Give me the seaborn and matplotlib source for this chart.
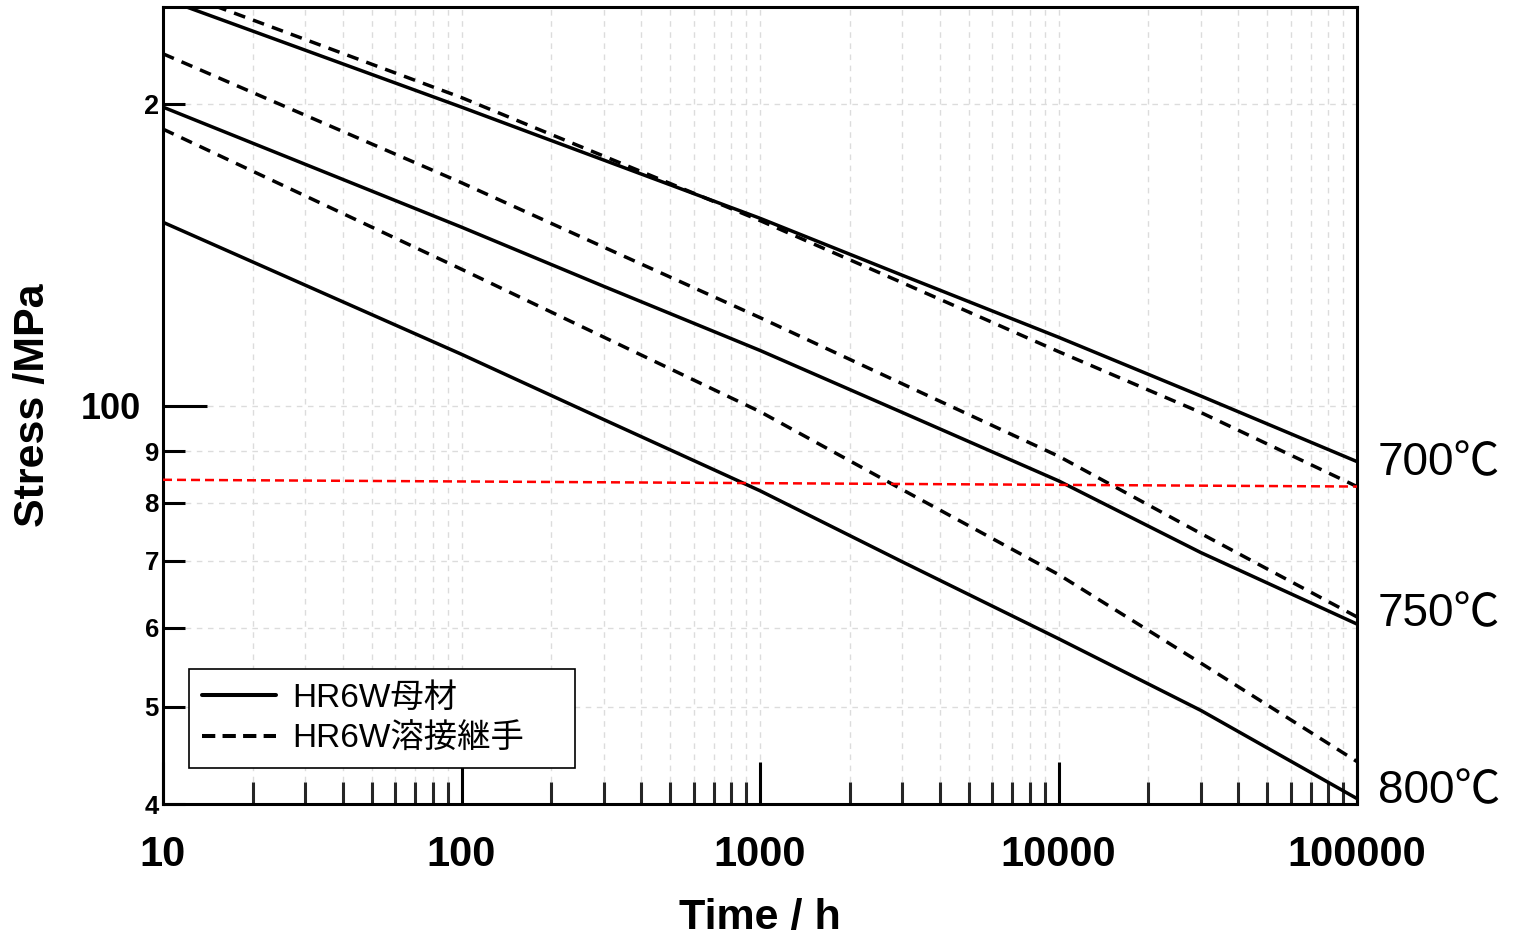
import numpy as np
import pandas as pd
import matplotlib
matplotlib.use('Agg')
import matplotlib.pyplot as plt
import seaborn as sns
from matplotlib import font_manager as fm
from matplotlib.lines import Line2D
from matplotlib.ticker import FixedLocator, FixedFormatter, NullFormatter, LogLocator, FuncFormatter

# ---------------- data ----------------
times = [10, 100, 300, 1000, 3000, 10000, 30000, 100000]
base_700 = [255, 198.6, 175.8, 153.8, 134.9, 117, 102.2, 87.9]
weld_700 = [262, 203, 177.4, 153, 132.6, 113.2, 98.4, 83.0]
base_750 = [198.6, 150.7, 131.5, 113.5, 98.4, 84.1, 71.3, 60.5]
weld_750 = [224.5, 166.9, 143.9, 122.4, 105.1, 89, 74.5, 61.5]
base_800 = [152.4, 112.5, 96.8, 82.2, 69.8, 58.5, 49.6, 40.5]
weld_800 = [188.8, 136.8, 117, 98.6, 82.4, 67.8, 55.3, 44.1]
ref_time = [10, 100000]
ref_stress = [84.3, 83.0]
temps = ['700℃', '750℃', '800℃']
temp_label_y = [87.5, 61.9, 41.2]
legend_labels = ['HR6W母材', 'HR6W溶接継手']
xticks = [10, 100, 1000, 10000, 100000]
ymajor = [100]
ymajor_labels = ['100']
yminor = [40, 50, 60, 70, 80, 90, 200]
yminor_labels = ['4', '5', '6', '7', '8', '9', '2']

series = [
    ('700', 'base', base_700), ('700', 'weld', weld_700),
    ('750', 'base', base_750), ('750', 'weld', weld_750),
    ('800', 'base', base_800), ('800', 'weld', weld_800),
]
rows = []
for t, kind, vals in series:
    for x, y in zip(times, vals):
        rows.append({'time': x, 'stress': y, 'temp': t, 'kind': kind})
df = pd.DataFrame(rows)

# ---------------- style ----------------
sns.set_theme(style='white')


def has_font(name):
    try:
        fm.findfont(fm.FontProperties(family=name), fallback_to_default=False)
        return True
    except Exception:
        return False


narrow = has_font('Liberation Sans Narrow')
BOLD = 'Liberation Sans Narrow' if narrow else 'Liberation Sans'
if narrow:
    fs_xt, fs_y100, fs_lab = 34, 29, 34
else:
    fs_xt, fs_y100, fs_lab = 30, 26, 31
fs_ymin, fs_y2 = 18.5, 19.5
TXT = ['Liberation Sans', 'Noto Sans CJK JP', 'DejaVu Sans']
plt.rcParams['font.family'] = TXT
plt.rcParams['text.color'] = 'black'

fig = plt.figure(figsize=(15.18, 9.36), dpi=100)
ax = fig.add_axes([163 / 1518, 1 - 804 / 936, (1357 - 163) / 1518, (804 - 7) / 936])
ax.set_facecolor('white')

LW = 2.5
dash_black = (0, (3.4, 2.4))
for (t, kind), sub in df.groupby(['temp', 'kind']):
    ls = '-' if kind == 'base' else dash_black
    sns.lineplot(data=sub, x='time', y='stress', ax=ax, color='black',
                 linewidth=LW, linestyle=ls, estimator=None, sort=True,
                 legend=False, zorder=3)

ref = pd.DataFrame({'time': ref_time, 'stress': ref_stress})
sns.lineplot(data=ref, x='time', y='stress', ax=ax, color='#ff0000',
             linewidth=1.8, linestyle=(0, (3.6, 2.0)), estimator=None,
             legend=False, zorder=4)

ax.set_xscale('log')
ax.set_yscale('log')
ax.set_xlim(10, 100000)
ax.set_ylim(40, 250)

# x ticks
ax.xaxis.set_major_locator(FixedLocator(xticks))
ax.xaxis.set_major_formatter(FuncFormatter(lambda v, p: f'{int(round(v))}'))
ax.xaxis.set_minor_locator(LogLocator(base=10, subs=np.arange(2, 10), numticks=20))
ax.xaxis.set_minor_formatter(NullFormatter())
# y ticks
ax.yaxis.set_major_locator(FixedLocator(ymajor))
ax.yaxis.set_major_formatter(FixedFormatter(ymajor_labels))
ax.yaxis.set_minor_locator(FixedLocator(yminor))
ax.yaxis.set_minor_formatter(FixedFormatter(yminor_labels))

ax.tick_params(axis='x', which='major', direction='in', length=30, width=2.2,
               pad=22, labelsize=fs_xt, colors='black')
ax.tick_params(axis='x', which='minor', direction='in', length=16, width=2.2)
ax.tick_params(axis='y', which='major', direction='in', length=32, width=2.2,
               pad=16, labelsize=fs_y100, colors='black')
ax.tick_params(axis='y', which='minor', direction='in', length=16, width=2.2,
               pad=3, labelsize=fs_ymin, colors='black')
ax.tick_params(bottom=True, left=True, top=False, right=False, which='both')

for lbl in ax.get_xticklabels() + ax.get_yticklabels():
    lbl.set_fontfamily(BOLD)
    lbl.set_fontweight('bold')

ax.grid(True, which='both', color='#dcdcdc', linestyle=(0, (4, 4)), linewidth=1.0, zorder=0)
ax.set_axisbelow(True)

for sp in ax.spines.values():
    sp.set_visible(True)
    sp.set_color('black')
    sp.set_linewidth(2.2)

ax.set_xlabel('Time / h', fontsize=fs_lab, fontweight='bold', family=BOLD, labelpad=17, color='black')
ax.set_ylabel('Stress /MPa', fontsize=fs_lab, fontweight='bold', family=BOLD, labelpad=20, color='black')

# temperature labels at right
for lab, yv in zip(temps, temp_label_y):
    ax.annotate(lab, xy=(1.0, yv), xycoords=('axes fraction', 'data'),
                xytext=(15, 0), textcoords='offset points', va='center', ha='left',
                fontsize=33, family=TXT, color='black', annotation_clip=False)

# legend
handles = [Line2D([0], [0], color='black', lw=2.9, linestyle='-'),
           Line2D([0], [0], color='black', lw=2.9, linestyle=(0, (3.3, 1.8)))]
leg = ax.legend(handles, legend_labels, loc='lower left',
                bbox_to_anchor=(26 / 1194, 36 / 797, 386 / 1194, 97 / 797),
                mode='expand', borderaxespad=0, frameon=True,
                fancybox=False, edgecolor='black', framealpha=1,
                handlelength=2.2, handletextpad=0.5, labelspacing=0.3,
                borderpad=0.4, prop={'family': TXT, 'size': 24})
leg.get_frame().set_linewidth(1.2)
leg.set_zorder(5)
for t in leg.get_texts():
    t.set_color('black')

fig.canvas.draw()
for lbl in ax.get_yticklabels(minor=True):
    lbl.set_fontfamily('Liberation Sans')
    lbl.set_fontweight('bold')
    lbl.set_color('black')
    if lbl.get_text() == '2':
        lbl.set_fontsize(fs_y2)

fig.savefig('out.png', dpi=100, facecolor='white')
